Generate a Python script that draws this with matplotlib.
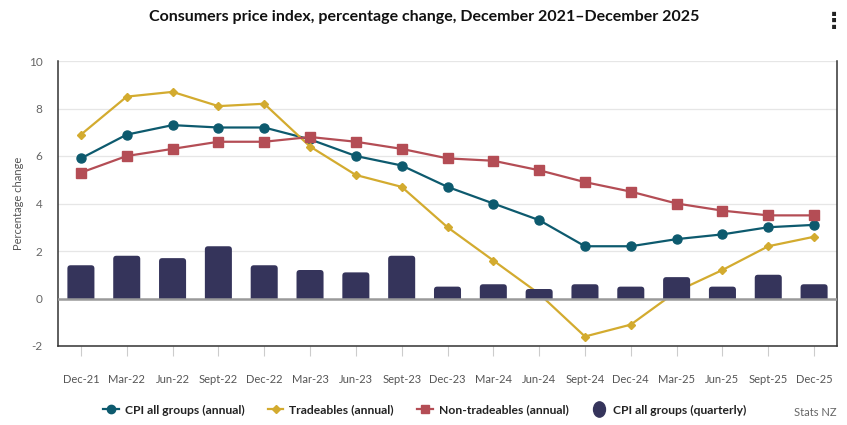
import matplotlib
matplotlib.use("Agg")
import matplotlib.pyplot as plt
from matplotlib.patches import FancyBboxPatch, Rectangle
from matplotlib.lines import Line2D
from matplotlib.path import Path
from matplotlib.transforms import Affine2D

plt.rcParams['font.family'] = ['Lato', 'DejaVu Sans']

categories = ["Dec-21", "Mar-22", "Jun-22", "Sept-22", "Dec-22", "Mar-23", "Jun-23",
              "Sept-23", "Dec-23", "Mar-24", "Jun-24", "Sept-24", "Dec-24", "Mar-25",
              "Jun-25", "Sept-25", "Dec-25"]
cpi_annual = [5.9, 6.9, 7.3, 7.2, 7.2, 6.7, 6.0, 5.6, 4.7, 4.0, 3.3, 2.2, 2.2, 2.5, 2.7, 3.0, 3.1]
tradeables = [6.9, 8.5, 8.7, 8.1, 8.2, 6.4, 5.2, 4.7, 3.0, 1.6, 0.2, -1.6, -1.1, 0.3, 1.2, 2.2, 2.6]
non_tradeables = [5.3, 6.0, 6.3, 6.6, 6.6, 6.8, 6.6, 6.3, 5.9, 5.8, 5.4, 4.9, 4.5, 4.0, 3.7, 3.5, 3.5]
cpi_quarterly = [1.4, 1.8, 1.7, 2.2, 1.4, 1.2, 1.1, 1.8, 0.5, 0.6, 0.4, 0.6, 0.5, 0.9, 0.5, 1.0, 0.6]
y_ticks = [-2, 0, 2, 4, 6, 8, 10]

c_cpi = "#0d5a6e"
c_trad = "#d3ab2f"
c_non = "#b44d55"
c_bar = "#35345b"

W, H = 847, 425
fig = plt.figure(figsize=(W / 100, H / 100), dpi=100)
ax = fig.add_axes([58 / W, 79 / H, (837 - 58) / W, (346 - 61) / H])

x = list(range(len(categories)))

# lines (behind bars)
ax.plot(x, cpi_annual, color=c_cpi, lw=1.6, marker="o", ms=6.5, zorder=2)
ax.plot(x, tradeables, color=c_trad, lw=1.6, marker="D", ms=4.5, zorder=2)
ax.plot(x, non_tradeables, color=c_non, lw=1.6, marker="s", ms=6.5, zorder=2)

# bars with rounded tops
bars = ax.bar(x, cpi_quarterly, width=0.59, color=c_bar, zorder=3)
ax.set_xlim(-0.5, len(categories) - 0.5)
ax.set_ylim(-2, 10)
aspect = (45.8 / 23.7)
r = 0.07
for b in bars:
    bx, bw, bh = b.get_x(), b.get_width(), b.get_height()
    b.set_visible(False)
    p = FancyBboxPatch((bx, -0.5), bw, bh + 0.5,
                       boxstyle=f"round,pad=0,rounding_size={r}",
                       mutation_aspect=aspect, fc=c_bar, ec="none", zorder=3)
    ax.add_patch(p)
    clip = Rectangle((bx - 0.1, 0), bw + 0.2, bh + 1, transform=ax.transData)
    p.set_clip_path(clip)

# zero line
ax.axhline(0, color="#9a9a9a", lw=1.8, zorder=4)

ax.set_yticks(y_ticks)
ax.set_yticklabels([str(v) for v in y_ticks])
ax.grid(axis="y", color="#e6e6e6", lw=0.9, zorder=0)
ax.set_axisbelow(True)
ax.set_xticks(x)
ax.set_xticklabels(categories)
ax.tick_params(axis="x", length=7, color="#cccccc", width=0.8, pad=13,
               labelsize=8, labelcolor="#555555")
ax.tick_params(axis="y", length=0, pad=11, labelsize=8.5, labelcolor="#666666")
for s in ["left", "right", "bottom"]:
    ax.spines[s].set_color("#333333")
    ax.spines[s].set_linewidth(1.1)
ax.spines["top"].set_visible(False)

ax.set_ylabel("Percentage change", fontsize=8, color="#555555")
ax.yaxis.set_label_coords(-0.044, 0.5)

fig.text(424 / W, 1 - 17 / H, "Consumers price index, percentage change, December 2021\u2013December 2025",
         ha="center", va="center", fontsize=11.5, fontweight="bold", color="#111111")
fig.text(834 / W, 1 - 22 / H, "\u22ee", ha="center", va="center", fontsize=16,
         fontweight="bold", color="#222222", family=["DejaVu Sans"])
fig.text(837 / W, 1 - 413 / H, "Stats NZ", ha="right", va="center", fontsize=8, color="#666666")

ellipse = Path.unit_circle().transformed(Affine2D().scale(0.78, 1.0))
handles = [
    Line2D([], [], color=c_cpi, lw=1.6, marker="o", ms=6),
    Line2D([], [], color=c_trad, lw=1.6, marker="D", ms=4.5),
    Line2D([], [], color=c_non, lw=1.6, marker="s", ms=6),
    Line2D([], [], color=c_bar, lw=0, marker=ellipse, ms=11),
]
labels = ["CPI all groups (annual)", "Tradeables (annual)", "Non-tradeables (annual)",
          "CPI all groups (quarterly)"]
leg = fig.legend(handles, labels, loc="center", bbox_to_anchor=(425 / W, 1 - 410 / H),
                 ncol=4, frameon=False, handlelength=1.3, handletextpad=0.5,
                 columnspacing=1.9, prop={"weight": "bold", "size": 8.7})
for t in leg.get_texts():
    t.set_color("#222222")

fig.savefig("out.png", dpi=100)
